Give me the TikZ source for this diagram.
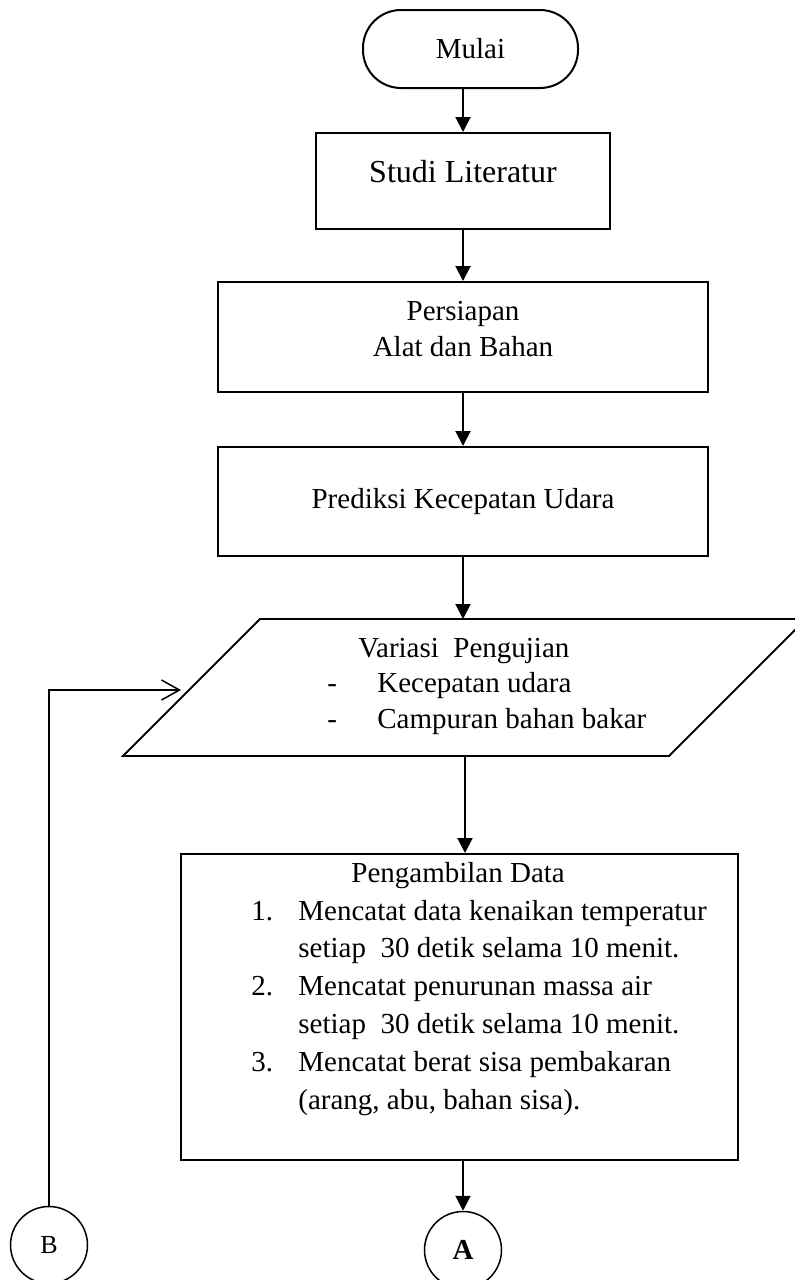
\documentclass[tikz,border=0pt]{standalone}
\usepackage{fontspec}
\setmainfont{Liberation Serif}
\usetikzlibrary{arrows.meta}

\begin{document}
\begin{tikzpicture}[x=0.5pt,y=-0.5pt]
\tikzset{kotak/.style={draw, line width=1pt, inner sep=0pt}}
\tikzset{huruf/.style={font=\fontsize{14.5}{18}\selectfont, inner sep=0pt}}
\tikzset{panah/.style={line width=1pt, -{Triangle[length=7.5pt,width=7.5pt]}}}
\tikzset{bulat/.style={draw, circle, line width=0.75pt, minimum size=38.5pt, inner sep=0pt}}
\useasboundingbox (0,0) rectangle (795,1280);
\clip (0,0) rectangle (795,1280);
\node[kotak, rounded corners=19pt, minimum width=107.5pt, minimum height=39pt, huruf] (mulai) at (470.5,49) {Mulai};
\node[kotak, minimum width=147pt, minimum height=48pt] (studi) at (463,181) {};
\node[kotak, minimum width=245pt, minimum height=55pt] (persiapan) at (463,337) {};
\node[kotak, minimum width=245pt, minimum height=54.5pt] (prediksi) at (463,501.5) {};
% jajaran genjang variasi
\coordinate (v1) at (260,619);
\coordinate (v2) at (806,619);
\coordinate (v3) at (669,756);
\coordinate (v4) at (123,756);
\coordinate (variasi-atas) at (463,619);
\coordinate (variasi-bawah) at (465,756);
\coordinate (variasi-kiri) at (189,690);
\draw[line width=0.9pt, line join=miter] (v1) -- (v2) -- (v3) -- (v4) -- cycle;
\node[kotak, minimum width=278.5pt, minimum height=153pt] (ambil) at (459.5,1007) {};
\node[bulat, huruf, font=\fontsize{14.5}{18}\selectfont\bfseries] (bulat-a) at (463,1250) {A};
\node[bulat, huruf, font=\fontsize{13}{16}\selectfont] (bulat-b) at (49,1245) {B};
% teks di dalam kotak
\node[huruf, font=\fontsize{16}{19}\selectfont, anchor=base] (t-studi) at (463,182) {Studi Literatur};
\node[huruf, align=center, anchor=base] (t-persiapan) at (463,356) {Persiapan\\Alat dan Bahan};
\node[huruf, anchor=base] (t-prediksi) at (463,508) {Prediksi Kecepatan Udara};
\node[huruf, font=\fontsize{14.5}{17.75}\selectfont, align=left, anchor=base west] (t-variasi) at (327,728) {\hspace*{15.5pt}Variasi\ \ Pengujian\\
\makebox[25pt][l]{-}Kecepatan udara\\
\makebox[25pt][l]{-}Campuran bahan bakar};
\node[huruf, font=\fontsize{14.5}{18.9}\selectfont, align=left, anchor=base west] (t-ambil) at (251,1109) {\hspace*{50pt}Pengambilan Data\\
\makebox[23.5pt][l]{1.}Mencatat data kenaikan temperatur\\
\hspace*{23.5pt}setiap\ \ 30 detik selama 10 menit.\\
\makebox[23.5pt][l]{2.}Mencatat penurunan massa air\\
\hspace*{23.5pt}setiap\ \ 30 detik selama 10 menit.\\
\makebox[23.5pt][l]{3.}Mencatat berat sisa pembakaran\\
\hspace*{23.5pt}(arang, abu, bahan sisa).};
% panah
\draw[panah] (mulai.south -| studi.north) -- (studi.north);
\draw[panah] (studi) -- (persiapan);
\draw[panah] (persiapan) -- (prediksi);
\draw[panah] (prediksi.south) -- (variasi-atas);
\draw[panah] (variasi-bawah) -- (variasi-bawah |- ambil.north);
\draw[panah] (ambil.south -| bulat-a.north) -- (bulat-a.north);
\draw[line width=0.75pt, -{Straight Barb[length=9pt,width=10pt]}, shorten >=4pt] (bulat-b) |- (variasi-kiri);
\end{tikzpicture}
\end{document}
